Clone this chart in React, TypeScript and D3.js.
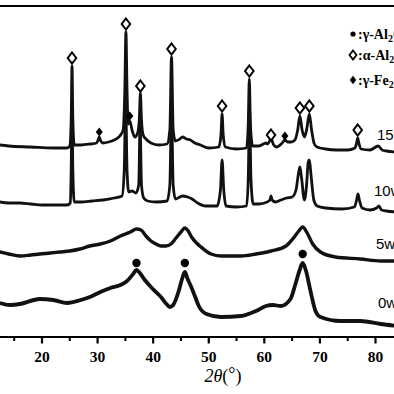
import React from "react";
import * as d3 from "d3";

// 2θ (deg) and intensity (a.u.)
const s15: [number, number][] = [
  [12.4,192],[14,191],[18,190],[22,189],[24.5,189],[25.0,191],[25.25,217],[25.4,271],[25.55,217],[25.8,192],
  [27,192],[28.7,193],[29.8,194],[30.1,197],[30.3,200],[30.5,197],[30.9,194],[32,195],[33,197],[34,201],
  [34.6,207],[34.9,247],[35.1,305],[35.3,247],[35.5,213],[35.8,216],[36.2,207],[36.7,200],[37.2,204],[37.5,217],
  [37.7,244],[37.9,217],[38.2,202],[38.7,198],[39.6,194],[41,192],[42.5,193],[43.0,207],[43.3,280],[43.6,207],
  [44,196],[44.8,198],[45.3,200],[46,198],[46.7,197],[47.5,194],[48.5,192],[50,189],[51.8,190],[52.2,202],
  [52.4,223],[52.6,202],[53,190],[55,188],[56.8,189],[57.1,212],[57.3,258],[57.5,212],[57.9,191],[59,191],
  [60.3,194],[60.6,193],[61.2,198],[61.7,192],[62.2,190],[63.2,194],[63.7,197],[64.2,195],[64.8,195],[65.5,197],
  [66.0,207],[66.4,221],[66.8,207],[67.2,200],[67.6,207],[68.1,223],[68.5,207],[69.0,193],[69.5,190],[71,188],
  [73,187],[75,187],[76.3,189],[76.6,194],[76.8,199],[77.0,194],[77.4,188],[79,187],[80.5,191],[81.2,187],
  [82,186],[84,185],
];
const s10: [number, number][] = [
  [12.4,135],[14,134],[16,134],[18,133],[20,132],[22,132],[24.5,132],[25.1,134],[25.25,167],[25.4,227],
  [25.55,167],[25.8,135],[27,135],[29,136],[31,137],[33,139],[34.4,141],[34.8,167],[35.05,237],[35.3,167],
  [35.6,145],[36.2,146],[36.9,144],[37.4,152],[37.65,212],[37.9,152],[38.3,139],[39,136],[40.5,135],[42.5,136],
  [43.0,152],[43.3,227],[43.6,152],[44,138],[44.8,140],[45.3,141],[46.2,140],[47,138],[48,134],[49.5,131],
  [51.5,131],[52.1,147],[52.4,177],[52.7,147],[53.1,131],[55,130],[56.8,131],[57.1,157],[57.35,227],[57.6,157],
  [58,133],[59,133],[60.5,135],[61.0,137],[61.2,141],[61.4,137],[62.0,135],[63.0,137],[64.0,139],[65.0,140],
  [65.7,147],[66.1,162],[66.4,170],[66.7,159],[67.2,137],[67.6,152],[67.9,175],[68.1,177],[68.4,162],[68.9,137],
  [69.5,131],[71,129],[74,128],[76.2,130],[76.6,137],[76.85,143],[77.1,137],[77.6,129],[79,127],[80.2,129],
  [80.6,131],[81.1,127],[82,126],[84,125],
];
const s5: [number, number][] = [
  [12.4,85],[14,83],[16,81],[18,82],[19.6,83],[21.5,84],[23.2,85],[25,86],[26.8,88],[28.6,91],[30.5,93],
  [32.3,96],[34.1,101],[35.9,105],[37,108],[37.8,107],[38.7,101],[39.6,96],[40.5,93],[41.4,91],[42.3,91],
  [43.2,93],[44.1,99],[45,105],[45.7,109],[46.3,106],[46.9,100],[47.8,94],[48.6,90],[50.4,83],[52.2,81],
  [55.8,81],[58.5,83],[61.2,86],[63.9,91],[65.1,98],[66.2,106],[66.9,110],[67.8,103],[68.7,93],[70.1,85],
  [72.8,80],[77.3,78],[80.9,76],[84,76],
];
const s0: [number, number][] = [
  [12.4,34],[14.2,32],[16,33],[19.6,38],[22,37],[24.5,34],[27,37],[28.6,40],
  [30.5,45],[32.3,49],[34.1,52],[35.3,56],[36.4,63],[37,67],[37.6,64],[38.5,57],[39.6,50],[40.5,45],[41.4,40],
  [42.4,33],[43,30],[43.6,32],[44.6,46],[45.2,58],[45.7,65],[46.2,58],[46.7,52],[47.5,41],[48.2,31],[49.6,23],
  [52.2,20],[55.8,21],[58.5,26],[60.3,31],[61.5,32],[63,31],[64.7,38],[65.6,53],[66.3,66],[66.9,74],[67.5,66],
  [68.3,46],[69.2,26],[70.1,20],[73.7,16],[77.3,16],[80.9,13],[84,11],
];

const seriesNames = ["15wt%", "10wt%", "5wt%", "0wt%"];
const labelLevels = [197, 141, 88, 29];
const labelX = [377, 374, 376, 378];
const traceWidths = [2.8, 2.8, 3.4, 3.8];

// phase markers: [2θ, intensity]
const alphaAl: [number, number][] = [
  [25.4,279],[35.1,313],[37.7,251],[43.3,288],[52.4,231],[57.3,266],[61.2,202],[66.4,229],[68.1,231],[76.8,207],
];
const gammaFe: [number, number][] = [[30.3,205],[35.8,221],[63.7,201]];
const gammaAl: [number, number][] = [[37.0,74],[45.7,74],[66.9,83]];

const majorTicks = [20, 30, 40, 50, 60, 70, 80];
const minorTicks = [15, 25, 35, 45, 55, 65, 75, 85];

const W = 394, H = 394;

export default function App() {
  const x = d3.scaleLinear().domain([20, 80]).range([42, 375.5]);
  const y = d3.scaleLinear().domain([0, 331]).range([337, 6]);
  const line = d3.line<[number, number]>().x(d => x(d[0])).y(d => y(d[1])).curve(d3.curveMonotoneX);
  const series = [s15, s10, s5, s0];
  const serif = "'Liberation Serif','Times New Roman',serif";
  const sans = "'Liberation Sans',Arial,sans-serif";
  const diamond = (cx: number, cy: number, w: number, h: number) =>
    `M${cx},${cy - h / 2}L${cx + w / 2},${cy}L${cx},${cy + h / 2}L${cx - w / 2},${cy}Z`;

  return (
    <svg width={W} height={H} style={{ position: "absolute", left: 0, top: 0, background: "#fff" }}>
      <rect width={W} height={H} fill="#fff" />
      {/* frame */}
      <line x1={0} x2={W} y1={y(331)} y2={y(331)} stroke="#000" strokeWidth={2.2} />
      <line x1={0} x2={W} y1={y(0)} y2={y(0)} stroke="#000" strokeWidth={2.2} />
      {majorTicks.map(t => (
        <g key={"M" + t}>
          <line x1={x(t)} x2={x(t)} y1={y(0)} y2={y(0) + 6.5} stroke="#000" strokeWidth={2.2} />
          <text x={x(t)} y={y(0) + 25} textAnchor="middle" fontFamily={serif} fontWeight="bold" fontSize={15.5} fill="#000">{t}</text>
        </g>
      ))}
      {minorTicks.map(t => (
        <line key={"m" + t} x1={x(t)} x2={x(t)} y1={y(0)} y2={y(0) + 4} stroke="#000" strokeWidth={2} />
      ))}
      <text x={223} y={382} textAnchor="middle" fontFamily={serif} fontSize={18} fill="#000">
        <tspan fontStyle="italic">2θ</tspan>(<tspan dy={-2}>°</tspan><tspan dy={2}>)</tspan>
      </text>

      {series.map((s, i) => (
        <path key={i} d={line(s) || ""} fill="none" stroke="#111" strokeWidth={traceWidths[i]} strokeLinejoin="round" />
      ))}
      {seriesNames.map((n, i) => (
        <text key={n} x={labelX[i]} y={y(labelLevels[i])} fontFamily={sans} fontSize={15} fill="#000">{n}</text>
      ))}

      {alphaAl.map(([a, v], i) => (
        <path key={"a" + i} d={diamond(x(a), y(v), 8.5, 11)} fill="#fff" stroke="#000" strokeWidth={2} />
      ))}
      {gammaFe.map(([a, v], i) => (
        <path key={"f" + i} d={diamond(x(a), y(v), 7, 9)} fill="#000" />
      ))}
      {gammaAl.map(([a, v], i) => (
        <circle key={"g" + i} cx={x(a)} cy={y(v)} r={4.2} fill="#000" />
      ))}

      {/* legend */}
      <circle cx={353} cy={34} r={2.6} fill="#000" />
      <text x={358} y={39} fontFamily={serif} fontWeight="bold" fontSize={14} fill="#000">:γ-Al<tspan fontSize={10} dy={3}>2</tspan><tspan dy={-3}>O</tspan><tspan fontSize={10} dy={3}>3</tspan></text>
      <path d={diamond(353, 55, 7, 9)} fill="#fff" stroke="#000" strokeWidth={1.8} />
      <text x={358} y={60} fontFamily={serif} fontWeight="bold" fontSize={14} fill="#000">:α-Al<tspan fontSize={10} dy={3}>2</tspan><tspan dy={-3}>O</tspan><tspan fontSize={10} dy={3}>3</tspan></text>
      <path d={diamond(353, 80, 6.5, 8.5)} fill="#000" />
      <text x={358} y={85} fontFamily={serif} fontWeight="bold" fontSize={14} fill="#000">:γ-Fe<tspan fontSize={10} dy={3}>2</tspan><tspan dy={-3}>O</tspan><tspan fontSize={10} dy={3}>3</tspan></text>
    </svg>
  );
}
